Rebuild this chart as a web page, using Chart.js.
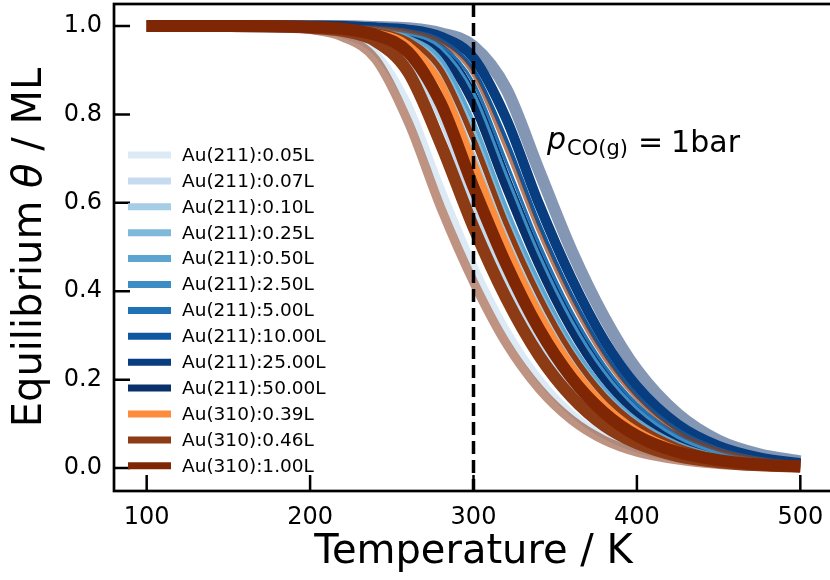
<!DOCTYPE html>
<html lang="en">
<head>
    <meta charset="UTF-8">
    <title>Equilibrium coverage vs temperature</title>
    <script src="https://cdn.jsdelivr.net/npm/chart.js"></script>
    <style>
        html, body { margin: 0; padding: 0; background: #fff; overflow: hidden; }
        canvas { display: block; }
    </style>
</head>
<body>
    <canvas id="coverageChart" width="834" height="580"></canvas>

    <script>
        const temperatures = [100, 150, 200, 220, 240, 260, 280, 300, 320, 340, 360, 380, 400, 425, 450, 475, 500];

        // equilibrium coverage (ML) per exposure
        const au211_005 = [1, 1, 0.994, 0.98, 0.941, 0.825, 0.636, 0.461, 0.315, 0.204, 0.125, 0.073, 0.042, 0.02, 0.01, 0.005, 0.002];
        const au211_007 = [1, 1, 0.997, 0.992, 0.975, 0.925, 0.783, 0.589, 0.421, 0.282, 0.18, 0.109, 0.063, 0.032, 0.015, 0.007, 0.004];
        const au211_010 = [1, 1, 0.998, 0.996, 0.987, 0.962, 0.884, 0.713, 0.527, 0.369, 0.244, 0.153, 0.091, 0.046, 0.022, 0.01, 0.005];
        const au211_025 = [1, 1, 0.999, 0.997, 0.991, 0.971, 0.913, 0.763, 0.571, 0.406, 0.271, 0.172, 0.104, 0.053, 0.026, 0.012, 0.006];
        const au211_050 = [1, 1, 0.999, 0.997, 0.992, 0.975, 0.925, 0.783, 0.589, 0.421, 0.282, 0.18, 0.109, 0.056, 0.027, 0.013, 0.006];
        const au211_250 = [1, 1, 0.999, 0.998, 0.994, 0.983, 0.951, 0.849, 0.664, 0.484, 0.334, 0.218, 0.135, 0.069, 0.034, 0.017, 0.008];
        const au211_500 = [1, 1, 1, 0.998, 0.995, 0.986, 0.959, 0.872, 0.693, 0.509, 0.354, 0.233, 0.145, 0.075, 0.037, 0.018, 0.008];
        const au211_1000 = [1, 1, 1, 0.999, 0.996, 0.989, 0.968, 0.901, 0.743, 0.553, 0.391, 0.26, 0.164, 0.086, 0.043, 0.021, 0.01];
        const au211_2500 = [1, 1, 1, 0.999, 0.997, 0.992, 0.976, 0.928, 0.791, 0.598, 0.429, 0.289, 0.185, 0.099, 0.05, 0.024, 0.011];
        const au211_5000 = [1, 1, 0.999, 0.998, 0.994, 0.981, 0.944, 0.833, 0.645, 0.468, 0.321, 0.208, 0.128, 0.065, 0.032, 0.016, 0.007];
        const au310_039 = [1, 1, 0.998, 0.995, 0.986, 0.959, 0.872, 0.693, 0.509, 0.354, 0.233, 0.145, 0.086, 0.043, 0.021, 0.01, 0.005];
        const au310_046 = [1, 1, 0.996, 0.989, 0.966, 0.896, 0.733, 0.545, 0.384, 0.255, 0.161, 0.096, 0.056, 0.027, 0.013, 0.006, 0.003];
        const au310_100 = [1, 1, 0.998, 0.994, 0.98, 0.941, 0.825, 0.636, 0.461, 0.315, 0.204, 0.125, 0.073, 0.036, 0.018, 0.008, 0.004];

        // unlabelled curves that are also visible in the plot
        const au211_shade = [1, 1, 1, 1, 0.998, 0.995, 0.984, 0.954, 0.858, 0.674, 0.492, 0.341, 0.222, 0.122, 0.062, 0.031, 0.015];
        const au310_lower = [1, 1, 0.992, 0.975, 0.925, 0.783, 0.589, 0.421, 0.282, 0.18, 0.109, 0.063, 0.036, 0.018, 0.008, 0.004, 0.002];
        const au310_mid = [1, 1, 0.999, 0.996, 0.989, 0.968, 0.901, 0.743, 0.553, 0.391, 0.26, 0.164, 0.099, 0.05, 0.024, 0.011, 0.005];
        const au310_upper = [1, 1, 1, 0.998, 0.996, 0.988, 0.964, 0.89, 0.723, 0.536, 0.377, 0.249, 0.157, 0.081, 0.041, 0.02, 0.009];

        const seriesLabels = ['Au(211):0.05L', 'Au(211):0.07L', 'Au(211):0.10L', 'Au(211):0.25L', 'Au(211):0.50L',
            'Au(211):2.50L', 'Au(211):5.00L', 'Au(211):10.00L', 'Au(211):25.00L', 'Au(211):50.00L',
            'Au(310):0.39L', 'Au(310):0.46L', 'Au(310):1.00L'];
        const seriesValues = [au211_005, au211_007, au211_010, au211_025, au211_050, au211_250, au211_500,
            au211_1000, au211_2500, au211_5000, au310_039, au310_046, au310_100];
        const seriesColors = ['#dceaf6', '#c6dbef', '#a5cde3', '#7fb9da', '#5da5d1', '#3d8dc4', '#2171b5',
            '#0d58a1', '#083d7f', '#08306b', '#fd8d3c', '#8c3b14', '#7f2704'];
        const lineWidths = [6.5, 3.5, 3, 3, 4, 3, 3, 4, 10, 12, 6.5, 12, 12];

        const shadeColor = 'rgba(8,48,107,0.5)';
        const shadeWidth = 12;
        const extraValues = [au310_lower, au310_mid, au310_upper];
        const extraColors = ['rgba(127,39,4,0.5)', '#8c3b14', 'rgba(140,59,20,0.65)'];
        const extraWidths = [9, 5.5, 4];

        const yTicks = [0, 0.2, 0.4, 0.6, 0.8, 1.0];
        const xTicks = [100, 200, 300, 400, 500];
        const refTemperature = 300;

        const toPoints = vals => temperatures.map((t, i) => ({ x: t, y: vals[i] }));

        // bottom -> top: shaded band, Au(211) from high to low exposure, then the Au(310) curves
        const drawList = [{ data: au211_shade, color: shadeColor, width: shadeWidth }];
        for (let i = 9; i >= 0; i--) drawList.push({ data: seriesValues[i], color: seriesColors[i], width: lineWidths[i] });
        extraValues.forEach((v, i) => drawList.push({ data: v, color: extraColors[i], width: extraWidths[i] }));
        for (let i = 10; i < 13; i++) drawList.push({ data: seriesValues[i], color: seriesColors[i], width: lineWidths[i] });

        const datasets = drawList.map((s, i) => ({
            data: toPoints(s.data),
            borderColor: s.color,
            borderWidth: s.width,
            order: drawList.length - i
        }));

        const fontFamily = '"DejaVu Sans", Verdana, sans-serif';

        const decorations = {
            id: 'decorations',
            afterDatasetsDraw(chart) {
                const { ctx, chartArea: a, scales: { x, y } } = chart;
                ctx.save();

                // dashed reference line
                const xr = x.getPixelForValue(refTemperature);
                ctx.strokeStyle = '#000';
                ctx.lineWidth = 3.5;
                ctx.setLineDash([13, 6]);
                ctx.beginPath();
                ctx.moveTo(xr, a.top);
                ctx.lineTo(xr, a.bottom);
                ctx.stroke();
                ctx.setLineDash([]);

                // frame
                ctx.lineWidth = 2.7;
                ctx.strokeRect(a.left, a.top, a.right - a.left, a.bottom - a.top);

                // inward ticks
                ctx.lineWidth = 2.5;
                ctx.beginPath();
                xTicks.forEach(t => {
                    const px = x.getPixelForValue(t);
                    ctx.moveTo(px, a.bottom);
                    ctx.lineTo(px, a.bottom - 16);
                });
                yTicks.forEach(v => {
                    const py = y.getPixelForValue(v);
                    ctx.moveTo(a.left, py);
                    ctx.lineTo(a.left + 16, py);
                });
                ctx.stroke();

                // y axis title with italic theta
                ctx.fillStyle = '#000';
                ctx.textBaseline = 'middle';
                ctx.textAlign = 'left';
                const parts = [['Equilibrium ', ''], ['θ', 'italic '], [' / ML', '']];
                let total = 0;
                parts.forEach(p => { ctx.font = p[1] + '40px ' + fontFamily; total += ctx.measureText(p[0]).width; });
                ctx.translate(31, (a.top + a.bottom) / 2);
                ctx.rotate(-Math.PI / 2);
                let tx = -total / 2;
                parts.forEach(p => {
                    ctx.font = p[1] + '40px ' + fontFamily;
                    ctx.fillText(p[0], tx, 0);
                    tx += ctx.measureText(p[0]).width;
                });
                ctx.setTransform(1, 0, 0, 1, 0, 0);

                // annotation p_CO(g) = 1bar
                ctx.textBaseline = 'alphabetic';
                let ax = x.getPixelForValue(345);
                const ay = y.getPixelForValue(0.715);
                ctx.font = 'italic 30px ' + fontFamily;
                ctx.fillText('p', ax, ay - 3);
                ax += ctx.measureText('p').width + 1;
                ctx.font = '21px ' + fontFamily;
                ctx.fillText('CO(g)', ax, ay + 3);
                ax += ctx.measureText('CO(g)').width + 10;
                ctx.font = '30px ' + fontFamily;
                ctx.fillText('=', ax, ay);
                ax += ctx.measureText('=').width + 8;
                ctx.fillText('1bar', ax, ay);

                // legend
                ctx.font = '18.5px ' + fontFamily;
                ctx.textBaseline = 'middle';
                seriesLabels.forEach((label, i) => {
                    const cy = 155 + i * 25.9;
                    ctx.strokeStyle = seriesColors[i];
                    ctx.lineWidth = 7;
                    ctx.beginPath();
                    ctx.moveTo(128, cy);
                    ctx.lineTo(171, cy);
                    ctx.stroke();
                    ctx.fillText(label, 182, cy + 1);
                });

                ctx.restore();
            }
        };

        new Chart(document.getElementById('coverageChart'), {
            type: 'line',
            data: { datasets: datasets },
            plugins: [decorations],
            options: {
                responsive: false,
                animation: false,
                devicePixelRatio: 1,
                layout: { padding: { top: 4, right: 1, left: 0, bottom: 0 } },
                plugins: { legend: { display: false }, tooltip: { enabled: false } },
                elements: {
                    point: { radius: 0 },
                    line: { cubicInterpolationMode: 'monotone', borderCapStyle: 'butt', borderJoinStyle: 'round' }
                },
                scales: {
                    x: {
                        type: 'linear',
                        min: 80,
                        max: 520,
                        grid: { display: false, drawTicks: false },
                        border: { display: false },
                        ticks: { stepSize: 100, includeBounds: false, color: '#000', padding: 12,
                            font: { family: fontFamily, size: 24 } },
                        title: { display: true, text: 'Temperature / K', color: '#000',
                            font: { family: fontFamily, size: 40 }, padding: { top: 0, bottom: 3 } },
                        afterFit: scale => {
                            scale.height = 89;
                            scale.paddingLeft = 0;
                            scale.paddingRight = 0;
                        }
                    },
                    y: {
                        min: -0.052,
                        max: 1.05,
                        grid: { display: false, drawTicks: false },
                        border: { display: false },
                        ticks: { stepSize: 0.2, includeBounds: false, color: '#000', padding: 12,
                            font: { family: fontFamily, size: 24 },
                            callback: v => v.toFixed(1) },
                        title: { display: false },
                        afterFit: scale => {
                            scale.width = 114;
                            scale.paddingTop = 0;
                            scale.paddingBottom = 0;
                        }
                    }
                }
            }
        });
    </script>
</body>
</html>
